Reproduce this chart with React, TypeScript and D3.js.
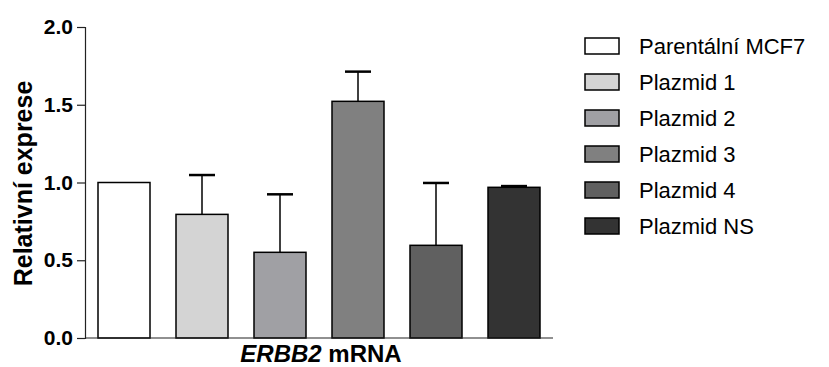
import React, { useEffect, useRef } from "react";
import * as d3 from "d3";

const groups = ["Parentální MCF7", "Plazmid 1", "Plazmid 2", "Plazmid 3", "Plazmid 4", "Plazmid NS"];
const means = [1.0, 0.795, 0.551, 1.522, 0.596, 0.969];
const errors = [0, 0.253, 0.373, 0.191, 0.401, 0.008];
const fills = ["#ffffff", "#d4d4d4", "#a0a0a4", "#808080", "#606060", "#333333"];
const yTicks = [0, 0.5, 1.0, 1.5, 2.0];

const App = () => {
  const ref = useRef<SVGSVGElement>(null);

  useEffect(() => {
    const width = 829;
    const height = 367;
    const margin = { top: 27, left: 85, bottom: 29, right: 276 };

    const svg = d3.select(ref.current);
    svg.selectAll("*").remove();

    const x = d3
      .scaleBand()
      .domain(groups)
      .range([margin.left, width - margin.right])
      .paddingInner(1 / 3)
      .paddingOuter(1 / 6);

    const y = d3
      .scaleLinear()
      .domain([0, 2])
      .range([height - margin.bottom, margin.top]);

    // bars
    svg
      .selectAll(".bar")
      .data(groups)
      .enter()
      .append("rect")
      .attr("class", "bar")
      .attr("x", (d) => x(d)!)
      .attr("y", (d, i) => y(means[i]))
      .attr("width", x.bandwidth())
      .attr("height", (d, i) => y(0) - y(means[i]))
      .attr("fill", (d, i) => fills[i])
      .attr("stroke", "#000")
      .attr("stroke-width", 1.5);

    // error bars (upper only)
    const err = svg
      .selectAll(".err")
      .data(groups.filter((d, i) => errors[i] > 0))
      .enter()
      .append("g")
      .attr("class", "err");

    err
      .append("line")
      .attr("x1", (d) => x(d)! + x.bandwidth() / 2)
      .attr("x2", (d) => x(d)! + x.bandwidth() / 2)
      .attr("y1", (d) => y(means[groups.indexOf(d)]))
      .attr("y2", (d) => y(means[groups.indexOf(d)] + errors[groups.indexOf(d)]))
      .attr("stroke", "#000")
      .attr("stroke-width", 1.5);

    err
      .append("line")
      .attr("x1", (d) => x(d)! + x.bandwidth() / 4)
      .attr("x2", (d) => x(d)! + (x.bandwidth() * 3) / 4)
      .attr("y1", (d) => y(means[groups.indexOf(d)] + errors[groups.indexOf(d)]))
      .attr("y2", (d) => y(means[groups.indexOf(d)] + errors[groups.indexOf(d)]))
      .attr("stroke", "#000")
      .attr("stroke-width", 2.5);

    // y axis
    const yAxis = svg
      .append("g")
      .attr("transform", `translate(${margin.left},0)`)
      .call(
        d3
          .axisLeft(y)
          .tickValues(yTicks)
          .tickSize(8)
          .tickPadding(4)
          .tickFormat(d3.format(".1f"))
      );
    yAxis.select(".domain").attr("stroke", "#222").attr("stroke-width", 1.2);
    yAxis.selectAll(".tick line").attr("stroke", "#222").attr("stroke-width", 1.2);
    yAxis
      .selectAll(".tick text")
      .attr("fill", "#000")
      .style("font-family", "Liberation Sans, Arial, sans-serif")
      .style("font-size", "21px")
      .style("font-weight", "bold");

    // x axis line
    svg
      .append("line")
      .attr("x1", margin.left)
      .attr("x2", width - margin.right)
      .attr("y1", y(0))
      .attr("y2", y(0))
      .attr("stroke", "#222")
      .attr("stroke-width", 1.2);

    // axis titles
    svg
      .append("text")
      .attr("transform", `translate(32,${(y(0) + y(2)) / 2 + 1}) rotate(-90)`)
      .attr("text-anchor", "middle")
      .style("font-family", "Liberation Sans, Arial, sans-serif")
      .style("font-size", "25px")
      .style("font-weight", "bold")
      .text("Relativní exprese");

    const xt = svg
      .append("text")
      .attr("x", (margin.left + width - margin.right) / 2 + 2)
      .attr("y", 362)
      .attr("text-anchor", "middle")
      .style("font-family", "Liberation Sans, Arial, sans-serif")
      .style("font-size", "24px")
      .style("font-weight", "bold");
    xt.append("tspan").style("font-style", "italic").text("ERBB2");
    xt.append("tspan").text(" mRNA");

    // legend
    const legend = svg
      .selectAll(".legend")
      .data(groups)
      .enter()
      .append("g")
      .attr("class", "legend")
      .attr("transform", (d, i) => `translate(585,${46 + i * 36})`);

    legend
      .append("rect")
      .attr("x", 0)
      .attr("y", -8)
      .attr("width", 34)
      .attr("height", 16)
      .attr("fill", (d, i) => fills[i])
      .attr("stroke", "#000")
      .attr("stroke-width", 1.5);

    legend
      .append("text")
      .attr("x", 54)
      .attr("y", 8)
      .style("font-family", "Liberation Sans, Arial, sans-serif")
      .style("font-size", "22px")
      .text((d) => d);
  }, []);

  return (
    <svg
      ref={ref}
      width={829}
      height={367}
      style={{ position: "absolute", left: 0, top: 0, background: "#fff" }}
    />
  );
};

export default App;
